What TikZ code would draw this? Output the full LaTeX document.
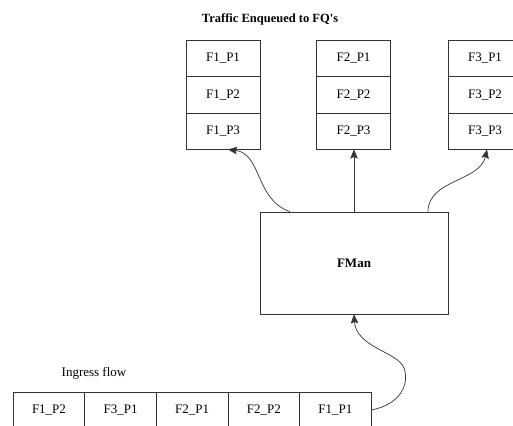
\documentclass[tikz,border=0pt]{standalone}
\usepackage{fontspec}
\setmainfont{Liberation Serif}
\usetikzlibrary{positioning, arrows.meta}

\tikzset{
    cell/.style={draw=black!80, line width=0.7pt, minimum width=74pt, minimum height=36.5pt,
        inner sep=0pt, outer sep=0pt, font=\fontsize{13}{15}\selectfont},
    qcell/.style={cell, minimum width=71.6pt, minimum height=36pt},
    arr/.style={-{Stealth[length=9pt, width=7.5pt, inset=1.5pt]}, line width=0.7pt, draw=black!80},
}

\begin{document}
\begin{tikzpicture}[x=1pt, y=-1pt]
    \useasboundingbox (0,0) rectangle (513,425);
    \node[font=\fontsize{12.5}{14}\selectfont\bfseries] (title) at (270,19) {Traffic Enqueued to FQ\textquotesingle s};
    \foreach \c/\x in {1/223, 2/353.5, 3/485} {
        \node[cell] (f\c p1) at (\x,58.25) {F\c\_P1};
        \node[cell, below=0pt of f\c p1] (f\c p2) {F\c\_P2};
        \node[cell, below=0pt of f\c p2] (f\c p3) {F\c\_P3};
    }
    \node[draw=black!80, line width=0.7pt, minimum width=188pt, minimum height=102pt,
        font=\fontsize{13}{15}\selectfont\bfseries] (fman) at (354,263) {FMan};
    \foreach \i/\t in {1/F1\_P2,2/F3\_P1,3/F2\_P1,4/F2\_P2,5/F1\_P1} {
        \node[qcell] (q\i) at ({49+71.6*(\i-1)},410) {\t};
    }
    \node[font=\fontsize{13}{15}\selectfont] (ingress) at (94,373) {Ingress flow};
    \coordinate (bend) at (404,368);
    % connectors
    \draw[arr] ([xshift=-64pt]fman.north) .. controls +(-35,-12) and +(34,4) .. ([xshift=5pt]f1p3.south);
    \draw[arr] (fman.north) -- (fman.north |- f2p3.south);
    \draw[arr] ([xshift=74pt]fman.north) .. controls +(0,-32) and +(-7,32) .. ([xshift=2pt]f3p3.south);
    \draw[arr] (q5.east) .. controls +(28,-5) and +(6,17) .. (bend)
        .. controls +(-6,-16) and +(2,33) .. (fman.south);
\end{tikzpicture}
\end{document}
